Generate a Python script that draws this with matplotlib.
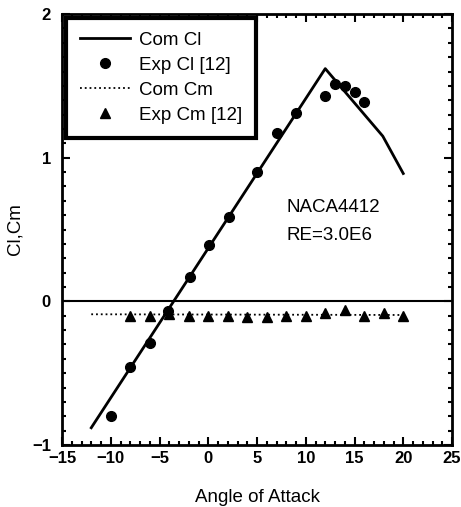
import numpy as np
import matplotlib.pyplot as plt
from matplotlib.ticker import MultipleLocator

plt.rcParams['font.family'] = ['Liberation Sans', 'DejaVu Sans']

# computed lift curve
com_cl_alpha = [-12, 12, 17.9, 20]
com_cl = [-0.88, 1.62, 1.15, 0.89]

# experimental lift [12]
exp_cl_alpha = [-10, -8, -6, -4.1, -1.9, 0.1, 2.1, 5, 7.1, 9, 12, 13, 14, 15, 16]
exp_cl = [-0.80, -0.46, -0.29, -0.07, 0.17, 0.39, 0.59, 0.90, 1.17, 1.31, 1.43, 1.51, 1.50, 1.46, 1.39]

# computed moment
com_cm_alpha = [-12, 20]
com_cm = [-0.09, -0.095]

# experimental moment [12]
exp_cm_alpha = [-8, -6, -4, -2, 0, 2, 4, 6, 8, 10, 12, 14, 16, 18, 20]
exp_cm = [-0.10, -0.10, -0.09, -0.10, -0.10, -0.10, -0.11, -0.11, -0.10, -0.10, -0.08, -0.06, -0.10, -0.08, -0.10]

fig = plt.figure(figsize=(4.61, 5.07), dpi=100)
ax = fig.add_axes([0.1345, 0.1223, 0.846, 0.85])

ax.plot(com_cl_alpha, com_cl, color='black', lw=2, label='Com Cl')
ax.plot(exp_cl_alpha, exp_cl, 'o', color='black', ms=7, label='Exp Cl [12]')
ax.plot(com_cm_alpha, com_cm, ':', color='black', lw=1.3, label='Com Cm')
ax.plot(exp_cm_alpha, exp_cm, '^', color='black', ms=7, label='Exp Cm [12]')
ax.axhline(0, color='black', lw=1.5)

ax.set_xlim(-15, 25)
ax.set_ylim(-1, 2)
ax.xaxis.set_major_locator(MultipleLocator(5))
ax.xaxis.set_minor_locator(MultipleLocator(1))
ax.yaxis.set_major_locator(MultipleLocator(1))
ax.yaxis.set_minor_locator(MultipleLocator(0.1))
ax.tick_params(which='both', direction='in', top=True, right=True, width=1.5)
ax.tick_params(which='major', length=6, labelsize=12)
ax.tick_params(which='minor', length=3)
ax.tick_params(axis='x', pad=4)
ax.tick_params(axis='y', pad=8)
for lab in ax.get_xticklabels() + ax.get_yticklabels():
    lab.set_fontweight('bold')
for s in ax.spines.values():
    s.set_linewidth(2)

ax.set_xlabel('Angle of Attack', fontsize=13.5, labelpad=17)
ax.set_ylabel('Cl,Cm', fontsize=13.5, labelpad=6)

ax.text(8.0, 0.65, 'NACA4412', fontsize=13.5, va='center')
ax.text(8.0, 0.46, 'RE=3.0E6', fontsize=13.5, va='center')

leg = ax.legend(loc='upper left', fontsize=13.5, handlelength=2.7, frameon=True,
                fancybox=False, framealpha=1, borderaxespad=0.2, labelspacing=0.42,
                handletextpad=0.45, borderpad=0.75)
leg.get_frame().set_edgecolor('black')
leg.get_frame().set_linewidth(3)

fig.savefig('out.png', dpi=100)
